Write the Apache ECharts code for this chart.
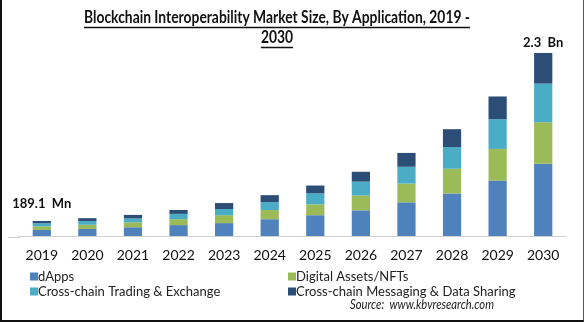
<!DOCTYPE html>
<html>
<head>
<meta charset="utf-8">
<script src="https://cdn.jsdelivr.net/npm/echarts@6/dist/echarts.min.js"></script>
<style>
  html, body { margin: 0; padding: 0; background: #fff; }
  #chart {
    width: 584px; height: 322px; box-sizing: border-box;
    border-left: 2px solid #111; border-bottom: 2px solid #111; border-right: 1px solid #555;
  }
</style>
</head>
<body>
<div id="chart"></div>
<script>
// Market size in USD million, by application
const years = ['2019','2020','2021','2022','2023','2024','2025','2026','2027','2028','2029','2030'];
const dApps      = [76, 88, 110, 137, 162, 211, 261, 323, 423, 534, 696, 908];
const nfts       = [45, 53, 62, 75, 99, 116, 137, 186, 236, 311, 398, 522];
const trading    = [40, 47, 48, 66, 78, 99, 137, 174, 211, 273, 373, 485];
const messaging  = [28.1, 36, 45, 49, 75, 87, 99, 124, 174, 224, 286, 385];
const seriesNames = ['dApps', 'Digital Assets/NFTs', 'Cross-chain Trading & Exchange', 'Cross-chain Messaging & Data Sharing'];
const colors = ['#4F81BD', '#9BBB59', '#4BACC6', '#2C4D75'];
const endLabels = { 0: '189.1  Mn', 11: '2.3  Bn' };
const titleLines = ['Blockchain Interoperability Market Size, By Application, 2019 -', '2030'];
const sourceText = 'Source:  www.kbvresearch.com';

const FONT = 'Lato, "Open Sans", sans-serif';
const TITLE_SIZE = 16.5;
const TITLE_WIDTH = 386;    // condensed width of the first title line
const SOURCE_SIZE = 13.5;
const SOURCE_WIDTH = 144;

const ctx = document.createElement('canvas').getContext('2d');
function textWidth(t, font) { ctx.font = font; return ctx.measureText(t).width; }

// title drawn condensed, with underlines following the rendered width
const titleScale = TITLE_WIDTH / textWidth(titleLines[0], 'bold ' + TITLE_SIZE + 'px ' + FONT);
const titleCx = 275;
const titleBaselines = [26, 46];
const titleGraphics = [];
titleLines.forEach((t, i) => {
  const w = textWidth(t, 'bold ' + TITLE_SIZE + 'px ' + FONT) * titleScale;
  titleGraphics.push({
    type: 'text', x: titleCx, y: titleBaselines[i], scaleX: titleScale,
    style: { text: t, fontFamily: FONT, fontWeight: 'bold', fontSize: TITLE_SIZE,
             fill: '#111', align: 'center', verticalAlign: 'bottom' }
  });
  titleGraphics.push({
    type: 'line',
    shape: { x1: titleCx - w / 2, y1: titleBaselines[i] + 1.5, x2: titleCx + w / 2, y2: titleBaselines[i] + 1.5 },
    style: { stroke: '#111', lineWidth: 1.3 }
  });
});

const sourceScale = SOURCE_WIDTH / textWidth(sourceText, 'italic ' + SOURCE_SIZE + 'px ' + FONT);

const chart = echarts.init(document.getElementById('chart'), null, { renderer: 'canvas' });

const allData = [dApps, nfts, trading, messaging];
const series = allData.map((d, i) => ({
  name: seriesNames[i],
  type: 'bar',
  stack: 'total',
  barWidth: '40%',
  data: i === 3 ? d.map((v, k) => ({
    value: v,
    label: { distance: k === 0 ? 11 : 4 }
  })) : d,
  itemStyle: { color: colors[i] },
  label: i === 3 ? {
    show: true,
    position: 'top',
    fontFamily: FONT, fontWeight: 'bold', fontSize: 13, color: '#111',
    formatter: p => endLabels[p.dataIndex] || ''
  } : { show: false }
}));

const legendBase = {
  orient: 'vertical', top: 265, itemGap: 2,
  itemWidth: 8, itemHeight: 8, icon: 'rect',
  textStyle: { fontFamily: FONT, fontSize: 13, color: '#222', padding: [0, 0, 0, -5] }
};

chart.setOption({
  animation: false,
  grid: { left: 17, right: 17, top: 50, bottom: 84, containLabel: false },
  xAxis: {
    type: 'category',
    data: years,
    axisLine: { lineStyle: { color: '#d0d0d0', width: 1 } },
    axisTick: { show: false },
    axisLabel: { fontFamily: FONT, fontSize: 14, color: '#111', margin: 12 }
  },
  yAxis: {
    type: 'value', min: 0, max: 2337,
    show: false, splitLine: { show: false }
  },
  legend: [
    Object.assign({ data: [seriesNames[0], seriesNames[2]], left: 23 }, legendBase),
    Object.assign({ data: [seriesNames[1], seriesNames[3]], left: 281 }, legendBase)
  ],
  graphic: titleGraphics.concat([
    { type: 'line', shape: { x1: 6, y1: 237.5, x2: 18, y2: 237.5 }, style: { stroke: '#d0d0d0', lineWidth: 1 } },
    { type: 'text', x: 348, y: 305, scaleX: sourceScale,
      style: { text: sourceText, fontFamily: FONT, fontStyle: 'italic', fontSize: SOURCE_SIZE, fill: '#222',
               verticalAlign: 'middle' } }
  ]),
  series
});
</script>
</body>
</html>
